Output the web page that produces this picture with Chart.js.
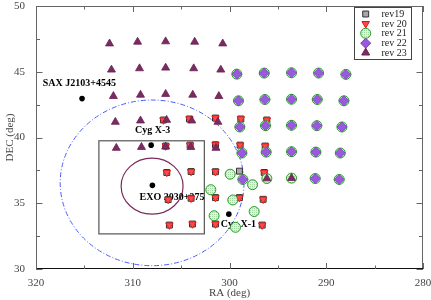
<!DOCTYPE html>
<html><head><meta charset="utf-8">
<script src="https://cdn.jsdelivr.net/npm/chart.js@4.4.0/dist/chart.umd.min.js"></script>
<style>html,body{margin:0;padding:0;background:#fff}#wrap{width:431px;height:300px}</style>
</head><body><div id="wrap"><canvas id="c" width="431" height="300"></canvas></div>
<script>
// ---- data (RA deg, DEC deg) ----
const xTickValues = [320, 310, 300, 290, 280];
const yTickValues = [30, 35, 40, 45, 50];

const rev19 = [
  [306.83,41.33],[304.14,41.41],[301.45,41.48],[298.83,41.41],[296.14,41.33],
  [306.59,39.35],[304.07,39.42],[301.45,39.45],[298.90,39.42],[296.31,39.35],
  [306.48,37.34],[303.97,37.41],[301.45,37.40],[298.97,37.44],[296.41,37.34],
  [306.34,35.28],[303.97,35.38],[301.45,35.43],[298.97,35.43],[296.52,35.30],
  [306.21,33.34],[303.83,33.42],[301.45,33.42],[296.62,33.34]
];
const rev20 = [
  [306.83,41.33],[304.14,41.41],[301.45,41.48],[298.83,41.41],[296.14,41.33],
  [306.59,39.35],[304.07,39.42],[301.45,39.45],[298.90,39.42],[296.31,39.35],
  [306.48,37.34],[303.97,37.41],[301.45,37.40],[296.41,37.34],
  [306.34,35.28],[303.97,35.38],[301.45,35.43],[298.97,35.43],[296.52,35.30],
  [306.21,33.34],[303.83,33.42],[301.45,33.42],[296.62,33.34]
];
const rev21 = [
  [299.24,44.82],[296.41,44.90],[293.59,44.92],[290.79,44.90],[287.97,44.80],
  [299.07,42.79],[296.34,42.89],[293.59,42.91],[290.93,42.89],[288.17,42.79],
  [298.93,40.80],[296.28,40.90],[293.59,40.93],[290.97,40.90],[288.38,40.80],
  [298.72,38.82],[296.21,38.89],[293.59,38.92],[291.07,38.89],[288.55,38.82],
  [298.62,36.81],[296.14,36.88],[293.59,36.91],[291.14,36.88],[288.66,36.81],
  [299.93,37.21],[301.93,36.03],[297.62,36.41],[299.66,35.25],[297.45,34.37],
  [301.59,34.05],[299.38,33.17]
];
const rev22 = [
  [299.24,44.82],[296.41,44.90],[293.59,44.92],[290.79,44.90],[287.97,44.80],
  [299.07,42.79],[296.34,42.89],[293.59,42.91],[290.93,42.89],[288.17,42.79],
  [298.93,40.80],[296.28,40.90],[293.59,40.93],[290.97,40.90],[288.38,40.80],
  [298.72,38.82],[296.21,38.89],[293.59,38.92],[291.07,38.89],[288.55,38.82],
  [298.62,36.81],[291.14,36.88],[288.66,36.81]
];
const rev23 = [
  [312.40,47.14],[309.50,47.27],[306.60,47.30],[303.60,47.27],[300.70,47.14],
  [312.20,45.15],[309.30,45.25],[306.60,45.30],[303.70,45.25],[300.90,45.15],
  [312.00,43.14],[309.20,43.24],[306.60,43.30],[303.80,43.24],[301.10,43.14],
  [311.80,41.18],[309.20,41.28],[306.50,41.33],[303.90,41.28],[301.20,41.18],
  [311.70,39.20],[309.10,39.27],[306.60,39.30],[304.00,39.27],[301.40,39.20],
  [296.14,36.88],[293.59,36.91]
];
const sources = [[315.24,42.96],[308.10,39.42],[307.97,36.36],[300.07,34.17]];
const sourceNames = ['SAX J2103+4545','Cyg X-3','EXO 2030+375','Cyg X-1'];
const sourceLabelPos = [[319.3,44.09],[309.76,40.53],[309.3,35.48],[300.9,33.37]];

// annotation shapes in data units
const fovEllipse = {ra:308.0, dec:36.55, rRa:9.5, rDec:6.3};
const srcEllipse = {ra:308.0, dec:36.3, rRa:3.2, rDec:2.13};
const boxRegion = {ra1:313.5, ra2:302.6, dec1:32.67, dec2:39.75};

// ---- styles ----
const SERIF = '"Liberation Serif","DejaVu Serif","Times New Roman",serif';
function hatchPattern(){
  const p = document.createElement('canvas'); p.width = 2; p.height = 2;
  const g = p.getContext('2d');
  g.fillStyle = '#e2f2e2'; g.fillRect(0,0,2,2);
  g.fillStyle = '#a6d6a6'; g.fillRect(0,0,1,1);
  return g.createPattern(p,'repeat');
}
const ctx0 = document.getElementById('c').getContext('2d');
const greenFill = hatchPattern();

const styles = {
  rev19: {pointStyle:'rect', pointRadius:4.2, backgroundColor:'#a8a8a8', borderColor:'#333', pointBorderWidth:1, rotation:0},
  rev20: {pointStyle:'triangle', pointRadius:4.3, backgroundColor:'#ff4a4a', borderColor:'#e01010', pointBorderWidth:0.8, rotation:180},
  rev21: {pointStyle:'circle', pointRadius:5, backgroundColor:greenFill, borderColor:'#22a022', pointBorderWidth:1, rotation:0},
  rev22: {pointStyle:'rectRot', pointRadius:5, backgroundColor:'#9a58dc', borderColor:'#7c3cc4', pointBorderWidth:0.8, rotation:0},
  rev23: {pointStyle:'triangle', pointRadius:4.6, backgroundColor:'#7a2c62', borderColor:'#6a2050', pointBorderWidth:0.8, rotation:0}
};
const legendNames = ['rev19','rev 20','rev 21','rev 22','rev 23'];
const legendKeys = ['rev19','rev20','rev21','rev22','rev23'];

const toXY = arr => arr.map(p => ({x:p[0], y:p[1]}));
function ds(label, arr, key, order){
  const s = styles[key];
  return {label, data: toXY(arr), order, pointStyle:s.pointStyle, pointRadius:s.pointRadius,
    backgroundColor:s.backgroundColor, borderColor:s.borderColor, borderWidth:s.pointBorderWidth,
    pointBorderWidth:s.pointBorderWidth, rotation:s.rotation, pointHoverRadius:s.pointRadius, showLine:false};
}

const decorPlugin = {
  id:'decor',
  beforeDatasetsDraw(chart){
    const {ctx, chartArea:a, scales:{x, y}} = chart;
    ctx.save();
    ctx.beginPath(); ctx.rect(a.left, a.top, a.right-a.left, a.bottom-a.top); ctx.clip();
    // box
    const bx1 = x.getPixelForValue(boxRegion.ra1), bx2 = x.getPixelForValue(boxRegion.ra2);
    const by1 = y.getPixelForValue(boxRegion.dec2), by2 = y.getPixelForValue(boxRegion.dec1);
    ctx.strokeStyle = '#555'; ctx.lineWidth = 1.2;
    ctx.strokeRect(bx1, by1, bx2-bx1, by2-by1);
    // ellipses
    function ell(e, color, dash, lw){
      const cx = x.getPixelForValue(e.ra), cy = y.getPixelForValue(e.dec);
      const rx = Math.abs(x.getPixelForValue(e.ra - e.rRa) - cx);
      const ry = Math.abs(y.getPixelForValue(e.dec + e.rDec) - cy);
      ctx.beginPath(); ctx.setLineDash(dash); ctx.strokeStyle = color; ctx.lineWidth = lw;
      ctx.ellipse(cx, cy, rx, ry, 0, 0, Math.PI*2); ctx.stroke(); ctx.setLineDash([]);
    }
    ell(fovEllipse, '#4a5cff', [5,2,1,2], 1);
    ell(srcEllipse, '#7a2a5c', [], 1.2);
    // source labels
    ctx.fillStyle = '#000'; ctx.font = 'bold 10px ' + SERIF; ctx.textAlign = 'left'; ctx.textBaseline = 'middle';
    sourceNames.forEach((n,i) => {
      ctx.fillText(n, x.getPixelForValue(sourceLabelPos[i][0]), y.getPixelForValue(sourceLabelPos[i][1]));
    });
    ctx.restore();
  },
  afterDatasetsDraw(chart){
    const {ctx, chartArea:a, scales:{x, y}} = chart;
    ctx.save();
    // frame
    ctx.lineWidth = 1;
    ctx.strokeStyle = '#666';
    ctx.beginPath();
    ctx.moveTo(a.left+0.5, a.bottom); ctx.lineTo(a.left+0.5, a.top+0.5); ctx.lineTo(a.right-0.5, a.top+0.5); ctx.lineTo(a.right-0.5, a.bottom);
    ctx.stroke();
    ctx.strokeStyle = '#111';
    ctx.beginPath(); ctx.moveTo(a.left, a.bottom-0.5); ctx.lineTo(a.right, a.bottom-0.5); ctx.stroke();
    // inside ticks
    ctx.strokeStyle = '#666';
    ctx.beginPath();
    for (let v = 280; v <= 320; v += 5){
      const px = Math.round(x.getPixelForValue(v)) + 0.5;
      const L = (v % 10 === 0) ? 6 : 3.5;
      ctx.moveTo(px, a.bottom); ctx.lineTo(px, a.bottom - L);
      ctx.moveTo(px, a.top); ctx.lineTo(px, a.top + L);
    }
    for (let v = 30; v <= 50; v += 2.5){
      const py = Math.round(y.getPixelForValue(v)) + 0.5;
      const L = (v % 5 === 0) ? 6.5 : 4;
      ctx.moveTo(a.left, py); ctx.lineTo(a.left + L, py);
      ctx.moveTo(a.right, py); ctx.lineTo(a.right - L, py);
    }
    ctx.stroke();
    // legend
    const lx1 = 354.5, ly1 = 7.5, lx2 = 411.5, ly2 = 59.5;
    ctx.fillStyle = '#fff'; ctx.fillRect(lx1, ly1, lx2-lx1, ly2-ly1);
    ctx.strokeStyle = '#444'; ctx.lineWidth = 1; ctx.strokeRect(lx1, ly1, lx2-lx1, ly2-ly1);
    const rows = [14, 23.7, 33.3, 43.2, 52.7];
    legendKeys.forEach((k,i) => {
      const s = styles[k];
      ctx.fillStyle = s.backgroundColor; ctx.strokeStyle = s.borderColor;
      Chart.helpers.drawPoint(ctx, {pointStyle:s.pointStyle, radius:s.pointRadius, rotation:s.rotation, borderWidth:s.pointBorderWidth}, 365.7, rows[i]);
      ctx.fillStyle = '#222'; ctx.font = '10px ' + SERIF; ctx.textAlign = 'left'; ctx.textBaseline = 'middle';
      ctx.fillText(legendNames[i], 381.5, rows[i] + 0.5);
    });
    ctx.restore();
  }
};

new Chart(ctx0, {
  type:'scatter',
  data:{ datasets:[
    {label:'sources', data: toXY(sources), order:0, pointStyle:'circle', pointRadius:2.8, backgroundColor:'#000', borderColor:'#000', borderWidth:0, pointHoverRadius:2.8},
    ds('rev 23', rev23, 'rev23', 1),
    ds('rev 22', rev22, 'rev22', 2),
    ds('rev 21', rev21, 'rev21', 3),
    ds('rev 20', rev20, 'rev20', 4),
    ds('rev19', rev19, 'rev19', 5)
  ]},
  options:{
    responsive:false, animation:false, events:[],
    layout:{padding:{top:3, right:8, left:0, bottom:0}},
    plugins:{legend:{display:false}, tooltip:{enabled:false}},
    scales:{
      x:{type:'linear', min:280, max:320, reverse:true,
        afterBuildTicks: s => { s.ticks = xTickValues.map(v => ({value:v})); },
        ticks:{font:{family:SERIF, size:11}, color:'#444', padding:0, maxRotation:0, autoSkip:false},
        grid:{display:false}, border:{display:false},
        title:{display:true, text:'RA (deg)', font:{family:SERIF, size:11}, color:'#444', padding:{top:0,bottom:0}},
        afterFit: s => { s.height = 31; s.paddingLeft = 0; s.paddingRight = 0; }
      },
      y:{type:'linear', min:30, max:50,
        afterBuildTicks: s => { s.ticks = yTickValues.map(v => ({value:v})); },
        ticks:{font:{family:SERIF, size:11}, color:'#444', padding:3, autoSkip:false},
        grid:{display:false}, border:{display:false},
        title:{display:true, text:'DEC (deg)', font:{family:SERIF, size:11}, color:'#444', padding:{top:4,bottom:0}},
        afterFit: s => { s.width = 36; s.paddingTop = 0; s.paddingBottom = 0; }
      }
    }
  },
  plugins:[decorPlugin]
});
</script>
</body></html>
